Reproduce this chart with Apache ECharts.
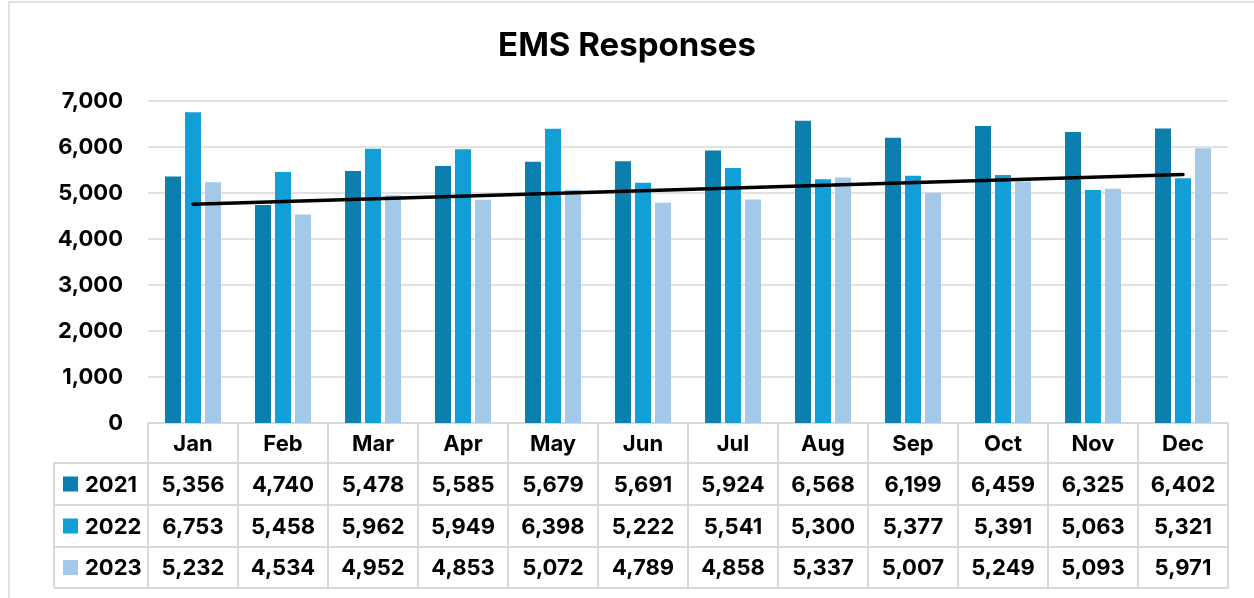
<!DOCTYPE html>
<html><head><meta charset="utf-8">
<script src="https://cdn.jsdelivr.net/npm/echarts@6/dist/echarts.min.js"></script>
<style>html,body{margin:0;padding:0;background:#fff;}#c{width:1254px;height:598px;}</style>
</head><body><div id="c"></div>
<script>
const months = ['Jan','Feb','Mar','Apr','May','Jun','Jul','Aug','Sep','Oct','Nov','Dec'];
const years = ['2021','2022','2023'];
const v2021 = [5356,4740,5478,5585,5679,5691,5924,6568,6199,6459,6325,6402];
const v2022 = [6753,5458,5962,5949,6398,5222,5541,5300,5377,5391,5063,5321];
const v2023 = [5232,4534,4952,4853,5072,4789,4858,5337,5007,5249,5093,5971];
// linear trendline (of 2023) endpoints
const trend = [4754,null,null,null,null,null,null,null,null,null,null,5403];
const yTicks = [0,1000,2000,3000,4000,5000,6000,7000];

const colors = ['#0B7FAE','#129ED6','#A3C8E8'];
const seriesVals = [v2021, v2022, v2023];
const FONT = 'Inter, "Open Sans", sans-serif';
const fmt = n => n.toLocaleString('en-US');

const chart = echarts.init(document.getElementById('c'), null, {renderer:'canvas'});

const L = 148, R = 1228, T = 101, B = 423;
const cw = (R - L) / months.length;
const rowTops = [423, 463, 505, 547, 588];
const legL = 54;
const lineCol = '#D9D9D9';

const graphic = [];
// outer chart border
graphic.push({type:'rect', shape:{x:9, y:2, width:1260, height:620}, style:{fill:null, stroke:'#D9D9D9', lineWidth:1.5}, silent:true, z:0});
// table horizontal lines
graphic.push({type:'line', shape:{x1:L, y1:rowTops[0], x2:R, y2:rowTops[0]}, style:{stroke:lineCol, lineWidth:2}});
for (let i = 1; i < rowTops.length; i++) {
  graphic.push({type:'line', shape:{x1:legL, y1:rowTops[i], x2:R, y2:rowTops[i]}, style:{stroke:lineCol, lineWidth:2}});
}
// vertical lines
graphic.push({type:'line', shape:{x1:legL, y1:rowTops[1], x2:legL, y2:rowTops[4]}, style:{stroke:lineCol, lineWidth:2}});
for (let i = 0; i <= months.length; i++) {
  const x = L + i * cw;
  graphic.push({type:'line', shape:{x1:x, y1:rowTops[0], x2:x, y2:rowTops[4]}, style:{stroke:lineCol, lineWidth:2}});
}
// legend keys + values
years.forEach((yr, r) => {
  const cy = (rowTops[r+1] + rowTops[r+2]) / 2;
  graphic.push({type:'rect', shape:{x:63, y:cy-7.5, width:15, height:15}, style:{fill:colors[r]}});
  graphic.push({type:'text', x:85, y:cy+1, style:{text:yr, font:'bold 22px ' + FONT, fill:'#000', textAlign:'left', textVerticalAlign:'middle'}});
  seriesVals[r].forEach((v, c) => {
    graphic.push({type:'text', x:L + (c + 0.5) * cw, y:cy+1, style:{text:fmt(v), font:'bold 22px ' + FONT, fill:'#000', textAlign:'center', textVerticalAlign:'middle'}});
  });
});

const option = {
  backgroundColor:'#fff',
  animation:false,
  title:{text:'EMS Responses', left:'center', top:25, textStyle:{fontFamily:FONT, fontWeight:'bold', fontSize:33, color:'#000'}},
  grid:{left:L, right:1254-R, top:T, bottom:598-B, containLabel:false},
  xAxis:{type:'category', data:months,
    axisLine:{show:false}, axisTick:{show:false},
    axisLabel:{margin:10, color:'#000', fontFamily:FONT, fontWeight:'bold', fontSize:22, interval:0}},
  yAxis:{type:'value', min:0, max:7000, interval:1000,
    axisLine:{show:false}, axisTick:{show:false},
    splitLine:{lineStyle:{color:'#D9D9D9', width:1.5}},
    axisLabel:{margin:25, color:'#000', fontFamily:FONT, fontWeight:'bold', fontSize:22, formatter:v => fmt(v)}},
  series:[
    ...years.map((yr, i) => ({name:yr, type:'bar', data:seriesVals[i], barWidth:16, barGap:'25%', itemStyle:{color:colors[i]}})),
    {name:'Trend', type:'line', data:trend, connectNulls:true, showSymbol:false, symbol:'none',
     lineStyle:{color:'#000', width:3.5, cap:'round'}, z:5}
  ],
  graphic:graphic
};
chart.setOption(option);
</script></body></html>
